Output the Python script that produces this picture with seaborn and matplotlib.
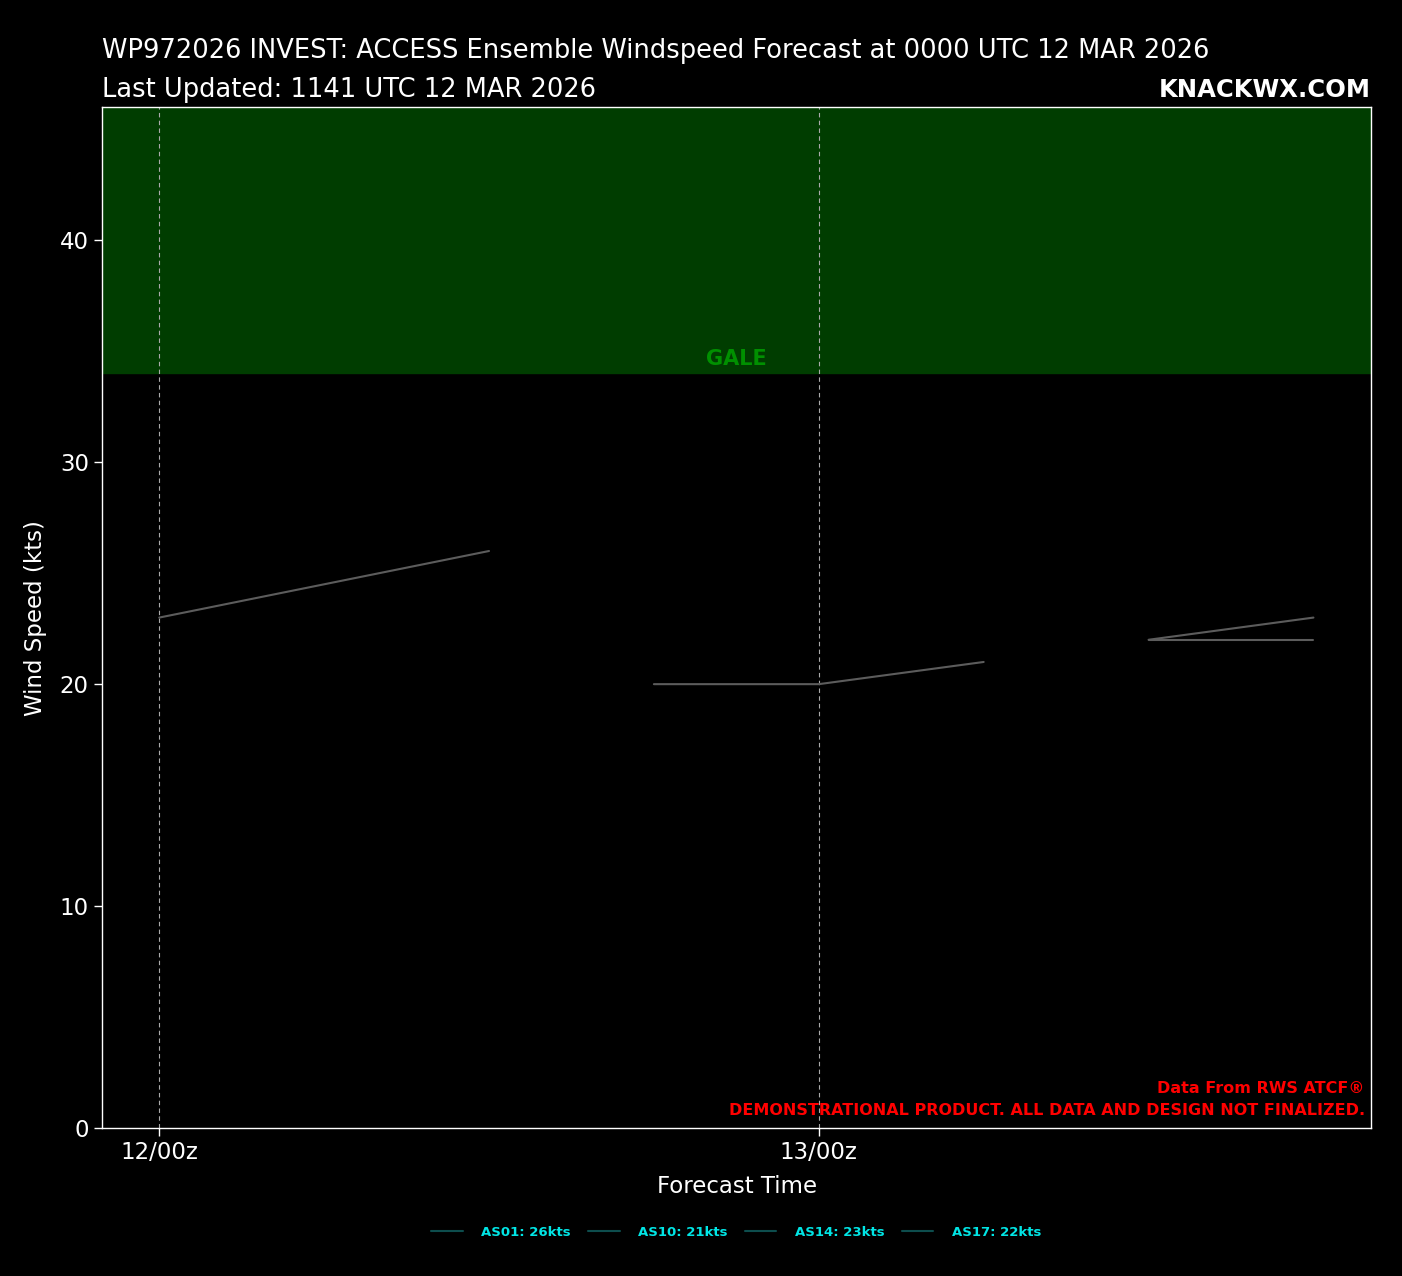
import pandas as pd
import seaborn as sns
import matplotlib.pyplot as plt
from matplotlib.lines import Line2D

# ensemble members and forecast points (hours from 12/00z, kts)
members = ["AS01", "AS10", "AS14", "AS17"]
as01_hours = [0, 12]
as01_wind = [23, 26]
as10_hours = [18, 24, 30]
as10_wind = [20, 20, 21]
as14_hours = [36, 42]
as14_wind = [22, 23]
as17_hours = [36, 42]
as17_wind = [22, 22]

tick_hours = [0, 24]
tick_labels = ["12/00z", "13/00z"]
gale_min = 34

rows = []
for m, hrs, wnd in zip(members, [as01_hours, as10_hours, as14_hours, as17_hours],
                       [as01_wind, as10_wind, as14_wind, as17_wind]):
    for h, w in zip(hrs, wnd):
        rows.append({"member": m, "hour": h, "wind": w})
df = pd.DataFrame(rows)

sns.set_style("dark", {"axes.facecolor": "black", "figure.facecolor": "black"})
plt.rcParams["font.family"] = ["DejaVu Sans"]

fig = plt.figure(figsize=(14.02, 12.76), dpi=100)
fig.patch.set_facecolor("black")
ax = fig.add_axes([0.0728, 0.116, 0.9052, 0.8])
ax.set_facecolor("black")

ax.axhspan(gale_min, 46, color="#003d00", zorder=0)
ax.text(0.5, gale_min + 0.2, "GALE", color="#009000", fontsize=15,
        fontweight="bold", ha="center", va="bottom",
        transform=ax.get_yaxis_transform())

for h in tick_hours:
    ax.axvline(h, color="#aaaaaa", lw=0.8, ls=(0, (4, 3)), zorder=1)

sns.lineplot(data=df, x="hour", y="wind", hue="member", palette=["#5c5c5c"] * 4,
             lw=1.5, ax=ax, legend=False, estimator=None, sort=False, zorder=3)

ax.set_xlim(-2.08, 44.1)
ax.set_ylim(0, 46)
ax.set_xticks(tick_hours)
ax.set_xticklabels(tick_labels)
ax.set_yticks([0, 10, 20, 30, 40])
ax.tick_params(colors="white", labelsize=16.5, length=6, width=1, bottom=True, left=True)
for s in ax.spines.values():
    s.set_color("white")
    s.set_linewidth(1)
ax.grid(False)
ax.set_xlabel("Forecast Time", color="white", fontsize=16.5, labelpad=8)
ax.set_ylabel("Wind Speed (kts)", color="white", fontsize=16.5, labelpad=9)

fig.text(0.0728, 0.9545, "WP972026 INVEST: ACCESS Ensemble Windspeed Forecast at 0000 UTC 12 MAR 2026",
         color="white", fontsize=18.5, ha="left", va="baseline")
fig.text(0.0728, 0.924, "Last Updated: 1141 UTC 12 MAR 2026",
         color="white", fontsize=18.5, ha="left", va="baseline")
fig.text(0.978, 0.924, "KNACKWX.COM", color="white", fontsize=17.5,
         fontweight="bold", ha="right", va="baseline")

ax.text(0.995, 0.01, "Data From RWS ATCF\u00ae\nDEMONSTRATIONAL PRODUCT. ALL DATA AND DESIGN NOT FINALIZED.",
        transform=ax.transAxes, color="red", fontsize=11.5, fontweight="bold",
        ha="right", va="bottom", linespacing=1.6, multialignment="right")

final = df.groupby("member")["wind"].last()
handles = [Line2D([], [], color="#0d4d4d", lw=1.5) for _ in members]
labels = [f"{m}: {final[m]}kts" for m in members]
leg = fig.legend(handles, labels, loc="center", bbox_to_anchor=(0.525, 0.034),
                 ncol=4, frameon=False, handlelength=2.4, handletextpad=1.4,
                 columnspacing=1.3, prop={"weight": "bold", "size": 9.5})
for t in leg.get_texts():
    t.set_color("#00e5e5")

fig.savefig("out.png", dpi=100, facecolor="black")
